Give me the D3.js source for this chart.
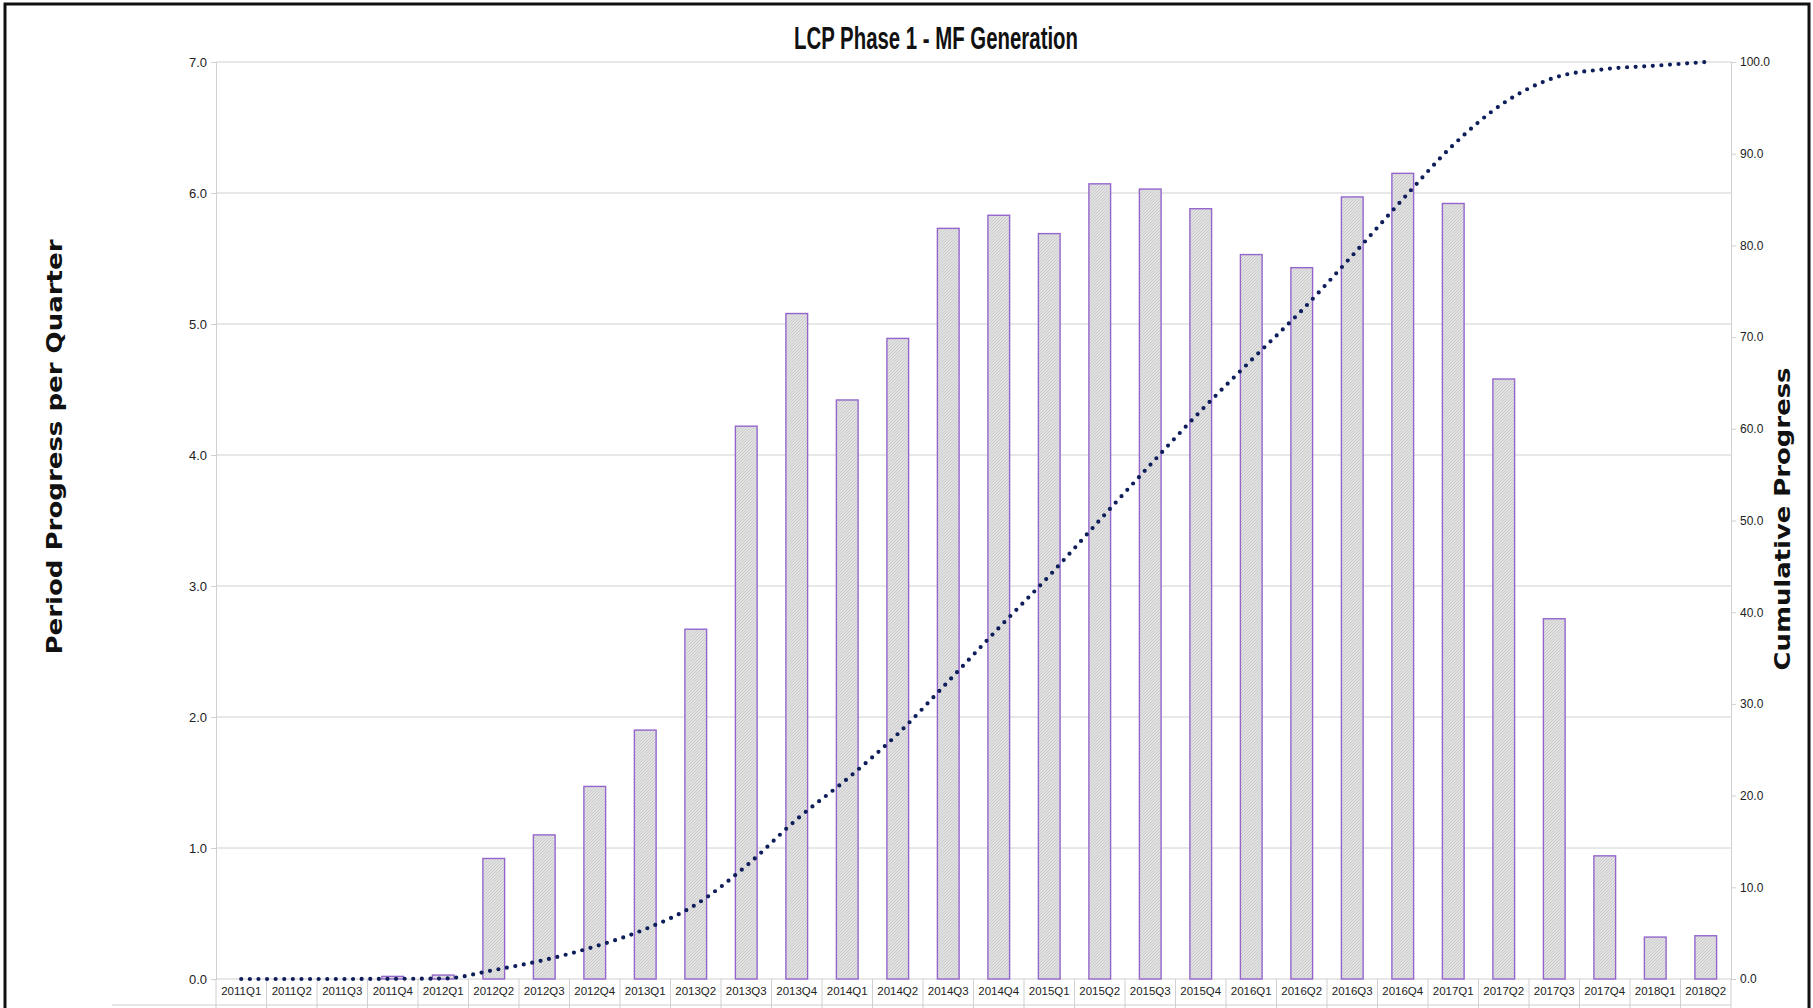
<!DOCTYPE html>
<html>
<head>
<meta charset="utf-8">
<script src="https://cdn.jsdelivr.net/npm/d3@7"></script>
<style>
  body { margin: 0; background: #fff; }
  svg { display: block; }
  .tick text { font-family: "Liberation Sans Narrow", "Arial Narrow", sans-serif; fill: #222; }
</style>
</head>
<body>
<div id="chart"></div>
<script>
// quarters on the category axis
var quarters = ["2011Q1","2011Q2","2011Q3","2011Q4","2012Q1","2012Q2","2012Q3","2012Q4",
  "2013Q1","2013Q2","2013Q3","2013Q4","2014Q1","2014Q2","2014Q3","2014Q4",
  "2015Q1","2015Q2","2015Q3","2015Q4","2016Q1","2016Q2","2016Q3","2016Q4",
  "2017Q1","2017Q2","2017Q3","2017Q4","2018Q1","2018Q2"];

// period progress per quarter (bars, left axis)
var periodProgress = [0, 0, 0, 0.02, 0.03, 0.92, 1.10, 1.47, 1.90, 2.67, 4.22, 5.08, 4.42, 4.89,
  5.73, 5.83, 5.69, 6.07, 6.03, 5.88, 5.53, 5.43, 5.97, 6.15, 5.92, 4.58, 2.75, 0.94, 0.32, 0.33];

// cumulative progress (dotted line, right axis)
var cumulativeProgress = [0, 0, 0, 0.02, 0.05, 0.97, 2.07, 3.54, 5.44, 8.11, 12.33, 17.41, 21.83, 26.72,
  32.45, 38.28, 43.97, 50.04, 56.07, 61.95, 67.48, 72.91, 78.88, 85.03, 90.95, 95.53, 98.28, 99.22, 99.6, 100];

var leftTicks = [0, 1, 2, 3, 4, 5, 6, 7];
var rightTicks = [0, 10, 20, 30, 40, 50, 60, 70, 80, 90, 100];

var W = 1813, H = 1008;
var margin = {top: 62, right: 82, bottom: 29, left: 216},
    width = W - margin.left - margin.right,
    height = H - margin.top - margin.bottom;

var root = d3.select("#chart").append("svg")
    .attr("width", W)
    .attr("height", H);

// hatched grey fill for the bars
var pat = root.append("defs").append("pattern")
    .attr("id", "hatch")
    .attr("patternUnits", "userSpaceOnUse")
    .attr("width", 3).attr("height", 3);
pat.append("rect").attr("width", 3).attr("height", 3).attr("fill", "#e2e2e2");
pat.append("path").attr("d", "M0,3 L3,0").attr("stroke", "#c4c4c4").attr("stroke-width", 0.8);

// outer frame
root.append("rect")
    .attr("x", 5).attr("y", 4)
    .attr("width", W - 9).attr("height", H + 10)
    .attr("fill", "none")
    .attr("stroke", "#111")
    .attr("stroke-width", 3);

var svg = root.append("g")
    .attr("transform", "translate(" + margin.left + "," + margin.top + ")");

var x = d3.scaleBand().domain(quarters).range([0, width]).padding(0);
var y = d3.scaleLinear().domain([0, 7]).range([height, 0]);
var y2 = d3.scaleLinear().domain([0, 100]).range([height, 0]);

// gridlines + left axis
var yAxis = svg.append("g")
    .call(d3.axisLeft(y).tickValues(leftTicks).tickFormat(d3.format(".1f")).tickSize(5).tickPadding(4));
yAxis.select(".domain").attr("stroke", "#d0d0d0");
yAxis.selectAll(".tick line").attr("stroke", "#d0d0d0");
yAxis.selectAll(".tick text").style("font-size", "13px");

svg.append("g")
    .selectAll("line")
    .data(leftTicks)
    .join("line")
      .attr("x1", 0).attr("x2", width)
      .attr("y1", function(d) { return y(d); })
      .attr("y2", function(d) { return y(d); })
      .attr("stroke", "#d0d0d0");

// right axis
var yAxisR = svg.append("g")
    .attr("transform", "translate(" + width + ",0)")
    .call(d3.axisRight(y2).tickValues(rightTicks).tickFormat(d3.format(".1f")).tickSize(5).tickPadding(4));
yAxisR.select(".domain").attr("stroke", "#d0d0d0");
yAxisR.selectAll(".tick line").attr("stroke", "#d0d0d0");
yAxisR.selectAll(".tick text").style("font-size", "12px");

// category table lines below the axis
var bounds = quarters.map(function(q) { return x(q); }).concat([width]);
svg.append("g")
    .selectAll("line")
    .data(bounds)
    .join("line")
      .attr("x1", function(d) { return d; }).attr("x2", function(d) { return d; })
      .attr("y1", height).attr("y2", height + 40)
      .attr("stroke", "#d0d0d0");
svg.append("line")
    .attr("x1", 112 - margin.left).attr("x2", width)
    .attr("y1", height + 26).attr("y2", height + 26)
    .attr("stroke", "#cfcfcf");

svg.append("g")
    .selectAll("text")
    .data(quarters)
    .join("text")
      .attr("x", function(d) { return x(d) + x.bandwidth() / 2; })
      .attr("y", height + 16)
      .attr("text-anchor", "middle")
      .style("font-family", "'Liberation Sans Narrow', 'Arial Narrow', sans-serif")
      .style("font-size", "11.5px")
      .style("fill", "#222")
      .text(function(d) { return d; });

// bars
var barW = x.bandwidth() * 0.43;
svg.append("g")
    .selectAll("rect")
    .data(periodProgress)
    .join("rect")
      .attr("x", function(d, i) { return x(quarters[i]) + (x.bandwidth() - barW) / 2; })
      .attr("y", function(d) { return y(d); })
      .attr("width", barW)
      .attr("height", function(d) { return height - y(d); })
      .attr("fill", "url(#hatch)")
      .attr("stroke", "#9466cc")
      .attr("stroke-width", 1.4);

// cumulative dotted line
var line = d3.line()
    .x(function(d, i) { return x(quarters[i]) + x.bandwidth() / 2; })
    .y(function(d) { return y2(d); })
    .curve(d3.curveMonotoneX);

svg.append("path")
    .datum(cumulativeProgress)
    .attr("d", line)
    .attr("fill", "none")
    .attr("stroke", "#0d1e5a")
    .attr("stroke-width", 4.2)
    .attr("stroke-linecap", "round")
    .attr("stroke-dasharray", "0 8.6");

// title
root.append("text")
    .attr("x", 936).attr("y", 49)
    .attr("text-anchor", "middle")
    .attr("textLength", 284)
    .attr("lengthAdjust", "spacingAndGlyphs")
    .style("font-family", "'Liberation Sans Narrow', 'Arial Narrow', sans-serif")
    .style("font-weight", "bold")
    .style("font-size", "31px")
    .style("fill", "#111")
    .text("LCP Phase 1 - MF Generation");

// axis titles
root.append("text")
    .attr("transform", "translate(62,447) rotate(-90)")
    .attr("text-anchor", "middle")
    .attr("textLength", 415)
    .attr("lengthAdjust", "spacingAndGlyphs")
    .style("font-family", "'DejaVu Sans', Verdana, sans-serif")
    .style("font-weight", "bold")
    .style("font-size", "22px")
    .style("fill", "#111")
    .text("Period Progress per Quarter");

root.append("text")
    .attr("transform", "translate(1790,519) rotate(-90)")
    .attr("text-anchor", "middle")
    .attr("textLength", 303)
    .attr("lengthAdjust", "spacingAndGlyphs")
    .style("font-family", "'DejaVu Sans', Verdana, sans-serif")
    .style("font-weight", "bold")
    .style("font-size", "22px")
    .style("fill", "#111")
    .text("Cumulative Progress");
</script>
</body>
</html>
